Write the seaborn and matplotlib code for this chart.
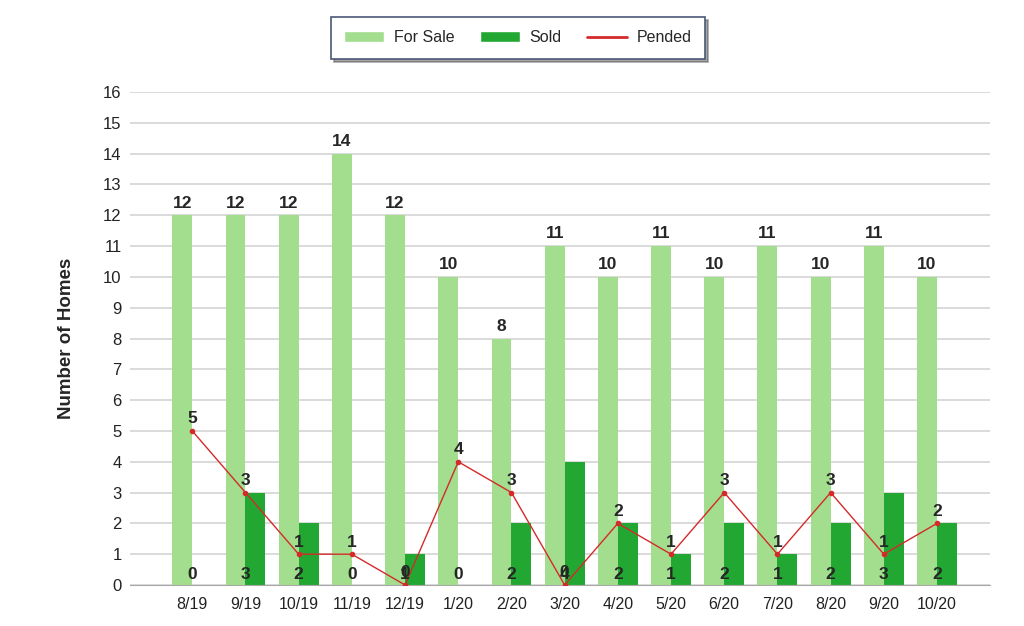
import matplotlib
matplotlib.use("Agg")
import matplotlib.pyplot as plt
import seaborn as sns
import pandas as pd
from matplotlib.patches import Patch
from matplotlib.lines import Line2D

# Datos
meses = ["8/19", "9/19", "10/19", "11/19", "12/19", "1/20", "2/20", "3/20",
         "4/20", "5/20", "6/20", "7/20", "8/20", "9/20", "10/20"]
en_venta = [12, 12, 12, 14, 12, 10, 8, 11, 10, 11, 10, 11, 10, 11, 10]
vendidas = [0, 3, 2, 0, 1, 0, 2, 4, 2, 1, 2, 1, 2, 3, 2]
pendientes = [5, 3, 1, 1, 0, 4, 3, 0, 2, 1, 3, 1, 3, 1, 2]

c_venta = "#a2de8e"
c_vend = "#22a832"
c_pend = "#d42a2a"

sns.set_style("white")
plt.rcParams['font.family'] = ['Liberation Sans', 'DejaVu Sans']

df = pd.DataFrame({
    "mes": meses * 2,
    "valor": en_venta + vendidas,
    "serie": ["For Sale"] * len(meses) + ["Sold"] * len(meses),
})

fig = plt.figure(figsize=(10.24, 6.26), dpi=100)
ax = fig.add_axes([0.127, 0.0655, 0.84, 0.7875])

sns.barplot(data=df, x="mes", y="valor", hue="serie", order=meses,
            palette={"For Sale": c_venta, "Sold": c_vend},
            width=0.75, saturation=1, ax=ax, legend=False, zorder=2,
            linewidth=0, edgecolor="none")

x = list(range(len(meses)))
ax.plot(x, pendientes, color=c_pend, lw=1, marker="o", ms=3, zorder=4)

# Etiquetas de valores
for i in x:
    ax.text(i - 0.1875, en_venta[i] + 0.15, str(en_venta[i]), ha="center", va="bottom",
            fontsize=12.5, fontweight="bold", zorder=5)
    ax.text(i, pendientes[i] + 0.15, str(pendientes[i]), ha="center", va="bottom",
            fontsize=12.5, fontweight="bold", zorder=5)
    ax.text(i, 0.1, str(vendidas[i]), ha="center", va="bottom",
            fontsize=12.5, fontweight="bold", zorder=5)

ax.set_xlim(-1.17, 15)
ax.set_ylim(0, 16)
ax.set_yticks(range(0, 17))
ax.set_xticks(range(-1, 16))
ax.set_xticklabels([""] + meses + [""])
ax.yaxis.grid(True, color="#d4d4d4", lw=1.2, zorder=0)
ax.set_axisbelow(True)

for s in ["left", "right", "top"]:
    ax.spines[s].set_visible(False)
ax.spines["bottom"].set_color("#a8a8a8")
ax.tick_params(axis="x", length=5, color="#a8a8a8", labelsize=11.5, labelcolor="#222222", pad=4)
ax.tick_params(axis="y", length=0, labelsize=12, labelcolor="#222222", pad=6)
ax.set_xlabel("")
ax.set_ylabel("Number of Homes", fontsize=13.5, fontweight="bold", labelpad=20)

handles = [Patch(facecolor=c_venta, label="For Sale"),
           Patch(facecolor=c_vend, label="Sold"),
           Line2D([0], [0], color=c_pend, lw=2, label="Pended")]
leg = fig.legend(handles=handles, loc="upper center", bbox_to_anchor=(0.506, 0.973),
                 borderaxespad=0, ncol=3, frameon=True, fancybox=False, shadow=True,
                 fontsize=11.5, handlelength=2.5, handleheight=0.7, handletextpad=0.6,
                 columnspacing=1.6, borderpad=0.85, edgecolor="#4a5878")
leg.get_frame().set_linewidth(1.2)

fig.savefig("out.png", dpi=100)
